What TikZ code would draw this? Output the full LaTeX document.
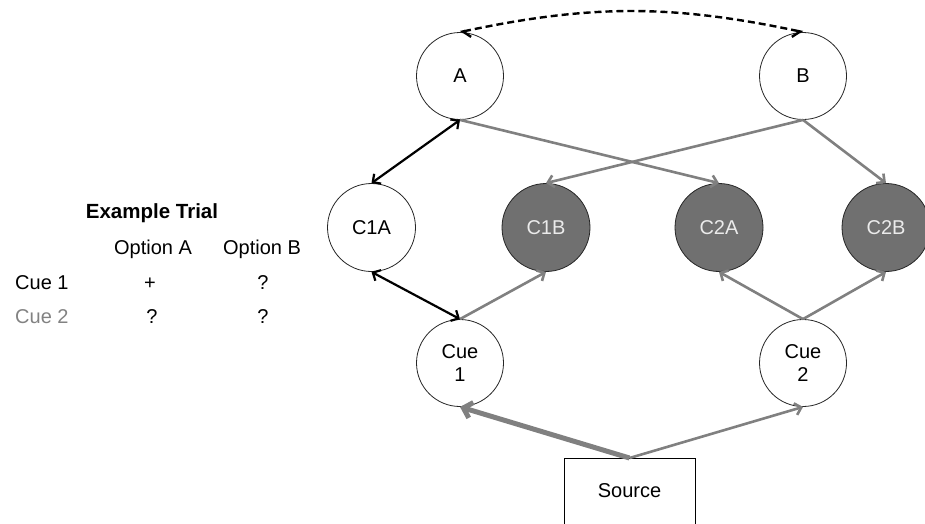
\documentclass[tikz,border=0pt]{standalone}
\usepackage{fontspec}
\setmainfont{Liberation Sans}
\usetikzlibrary{arrows.meta}
\definecolor{lgray}{RGB}{128,128,128}
\definecolor{dfill}{RGB}{112,112,112}
\definecolor{cuegray}{RGB}{130,130,130}
\begin{document}
\begin{tikzpicture}[x=1pt,y=-1pt,
  every node/.style={font=\fontsize{20}{23}\selectfont},
  bigc/.style={circle,draw=black!85,line width=0.8pt,minimum size=87pt,inner sep=0pt,fill=white,align=center},
  midc/.style={circle,draw=black!85,line width=0.8pt,minimum size=88pt,inner sep=0pt,fill=white,align=center},
  darkc/.style={midc,fill=dfill,text=white!92!black},
  garrow/.style={draw=lgray,line width=2.6pt,-{Straight Barb[length=6pt,width=12pt]}},
  barrow/.style={draw=black,line width=2.2pt,{Straight Barb[length=6pt,width=12pt]}-{Straight Barb[length=6pt,width=12pt]}},
  tlabel/.style={anchor=base,inner sep=0pt}
]
\useasboundingbox (0,0) rectangle (925,523);

% nodes
\node[bigc] (A) at (460,76) {A};
\node[bigc] (B) at (803,76) {B};
\node[midc] (C1A) at (371.5,227.5) {C1A};
\node[darkc] (C1B) at (546,227.5) {C1B};
\node[darkc] (C2A) at (719,227.5) {C2A};
\node[darkc] (C2B) at (886,227.5) {C2B};
\node[bigc] (Cue1) at (460,363) {Cue\\1};
\node[bigc] (Cue2) at (803,363) {Cue\\2};
\node[draw=black,line width=0.9pt,minimum width=131pt,minimum height=80pt,anchor=north] (S) at (629.5,458) {};
\node at (629.5,491) (Stxt) {Source};

% dashed link
\draw[dash pattern=on 7pt off 4pt,line width=2.4pt,{Straight Barb[length=7pt,width=14pt,harpoon]}-{Straight Barb[length=7pt,width=14pt,harpoon,swap]}] (A.north) to[bend left=12] (B.north);

% black double arrows
\draw[barrow] (A.south) -- (C1A.north);
\draw[barrow] (C1A.south) -- (Cue1.north);

% gray arrows
\draw[garrow] (A.south) -- (C2A.north);
\draw[garrow] (B.south) -- (C1B.north);
\draw[garrow] (B.south) -- (C2B.north);
\draw[garrow] (Cue1.north) -- (C1B.south);
\draw[garrow] (Cue2.north) -- (C2A.south);
\draw[garrow] (Cue2.north) -- (C2B.south);
\draw[draw=lgray,line width=5pt,-{Straight Barb[length=8pt,width=16pt]}] (S.north) -- (Cue1.south);
\draw[garrow] (S.north) -- (Cue2.south);

% table
\node[tlabel,font=\fontsize{20.5}{23}\selectfont\bfseries] (ET) at (152,218) {Example Trial};
\node[tlabel] (OA) at (153,254) {Option A};
\node[tlabel] (OB) at (262,254) {Option B};
\node[tlabel,anchor=base west] (R1) at (15,289) {Cue 1};
\node[tlabel] (P11) at (150,289) {+};
\node[tlabel] (P12) at (263,289) {?};
\node[tlabel,anchor=base west,text=cuegray] (R2) at (15,323) {Cue 2};
\node[tlabel] (P21) at (152,323) {?};
\node[tlabel] (P22) at (263,323) {?};
\end{tikzpicture}
\end{document}
